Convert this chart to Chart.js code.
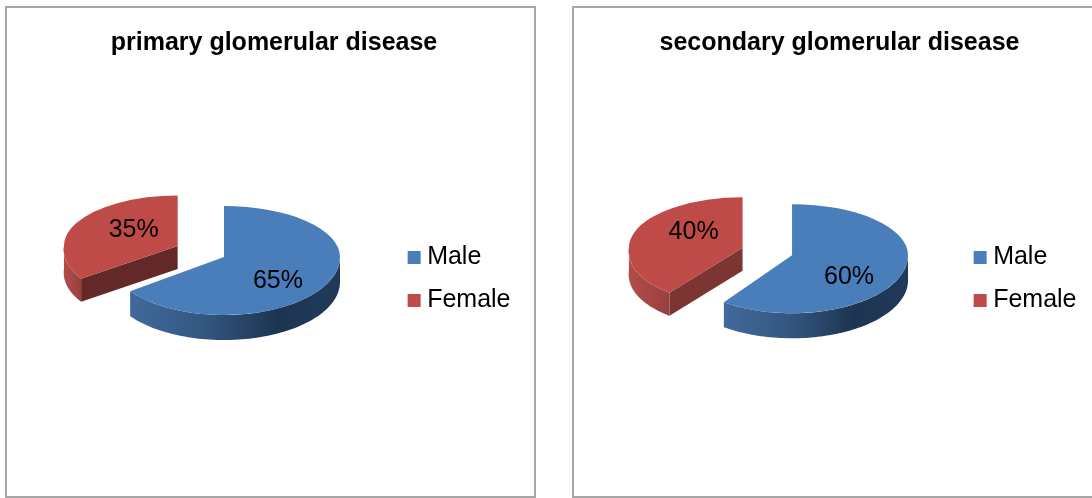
<!DOCTYPE html>
<html>
<head>
<meta charset="utf-8">
<style>
  html, body { margin: 0; padding: 0; background: #fff; width: 1092px; height: 498px; overflow: hidden; position: relative; }
  .frame { position: absolute; box-sizing: border-box; border: 2px solid #a6a6a6; background: #fff; }
  canvas { position: absolute; top: 6px; }
</style>
<script src="https://cdn.jsdelivr.net/npm/chart.js@4/dist/chart.umd.min.js"></script>
</head>
<body>
<div class="frame" style="left:5px;top:6px;width:531px;height:492px"></div>
<div class="frame" style="left:572px;top:6px;width:530px;height:492px"></div>
<canvas id="primary" width="548" height="492" style="left:0"></canvas>
<canvas id="secondary" width="535" height="492" style="left:572px"></canvas>
<script>
// Shares of each sex per disease group
const categories = ['Male', 'Female'];
const primaryValues = [65, 35];
const secondaryValues = [60, 40];
const primaryTitle = 'primary glomerular disease';
const secondaryTitle = 'secondary glomerular disease';

const BLUE = '#4a7ebb';
const RED = '#be4b48';
const FONT = '"Liberation Sans", Arial, sans-serif';
const TILT_MID = 0.47;     // squash used when pulling a slice out along its mid-angle
const EXPLODE = 26;        // how far each slice is pulled from the centre

// Per-slice look of the tilted disc, in the order of the categories
const sliceStyle = [
  { scaleX: 1, shear: 0, depth: 25, tiltUp: 0.44, tiltDown: 0.50,
    wallStops: [[0, '#41699b'], [0.35, '#335780'], [0.7, '#1e3552'], [1, '#213a5a']] },
  { scaleX: 0.98, shear: -0.14, depth: 23, tiltUp: 0.435, tiltDown: 0.48,
    wallStops: [[0, '#b44d4a'], [1, '#97403e']] }
];

function projector(arc, style, lift) {
  const mid = (arc.startAngle + arc.endAngle) / 2;
  const ax = arc.x + Math.cos(mid) * EXPLODE;
  const ay = arc.y + lift + Math.sin(mid) * EXPLODE * TILT_MID;
  return {
    ax, ay,
    at(angle) {
      const s = Math.sin(angle) * arc.outerRadius;
      const c = Math.cos(angle) * arc.outerRadius * style.scaleX;
      if (s > 0) return { x: ax + c + style.shear * style.tiltDown * s, y: ay + style.tiltDown * s };
      return { x: ax + c, y: ay + style.tiltUp * s };
    }
  };
}

// Outer rim and cut face below the top surface of a slice
function drawWalls(ctx, arc, style, proj) {
  const from = Math.max(arc.startAngle, 0);
  const to = Math.min(arc.endAngle, Math.PI);
  if (style.faceColor) {
    const end = proj.at(arc.startAngle);
    ctx.fillStyle = style.faceColor;
    ctx.beginPath();
    ctx.moveTo(proj.ax, proj.ay);
    ctx.lineTo(end.x, end.y);
    ctx.lineTo(end.x, end.y + style.depth);
    ctx.lineTo(proj.ax, proj.ay + style.depth);
    ctx.closePath();
    ctx.fill();
  }
  if (to <= from) return;
  const steps = 80;
  const rim = [];
  for (let i = 0; i <= steps; i++) rim.push(proj.at(from + (to - from) * i / steps));
  const xs = rim.map(p => p.x);
  const grad = ctx.createLinearGradient(Math.min(...xs), 0, Math.max(...xs), 0);
  style.wallStops.forEach(([t, c]) => grad.addColorStop(t, c));
  ctx.fillStyle = grad;
  ctx.beginPath();
  rim.forEach((p, i) => i ? ctx.lineTo(p.x, p.y) : ctx.moveTo(p.x, p.y));
  rim.slice().reverse().forEach(p => ctx.lineTo(p.x, p.y + style.depth));
  ctx.closePath();
  ctx.fill();
}

// Top surface: the library's arc element, drawn under the tilt transform
function drawTop(ctx, chart, arc, style, proj) {
  const seam = Math.round(proj.ay);
  const halves = [
    { y: -10, h: seam + 10, k: style.tiltUp, shear: 0 },
    { y: seam, h: 1000, k: style.tiltDown, shear: style.shear }
  ];
  halves.forEach(part => {
    ctx.save();
    ctx.beginPath();
    ctx.rect(-10, part.y, chart.width + 20, part.h);
    ctx.clip();
    ctx.translate(proj.ax, proj.ay);
    ctx.transform(style.scaleX, 0, part.shear * part.k, part.k, 0, 0);
    ctx.translate(-arc.x, -arc.y);
    arc.draw(ctx);
    ctx.restore();
  });
}

const tiltedPie = {
  id: 'tiltedPie',
  afterLayout(chart) {
    const shift = chart.options.plugins.tiltedPie.titleShift;
    chart.titleBlock.left += shift;
    chart.titleBlock.right += shift;
  },
  beforeDatasetDraw(chart) {
    const cfg = chart.options.plugins.tiltedPie;
    const ctx = chart.ctx;
    const arcs = chart.getDatasetMeta(0).data;
    const values = chart.data.datasets[0].data;
    const total = values.reduce((a, b) => a + b, 0);
    const styles = sliceStyle.map((s, i) => Object.assign({}, s, { faceColor: cfg.faceColors[i] }));
    const projs = arcs.map((arc, i) => projector(arc, styles[i], cfg.lift));
    arcs.forEach((arc, i) => drawWalls(ctx, arc, styles[i], projs[i]));
    arcs.forEach((arc, i) => drawTop(ctx, chart, arc, styles[i], projs[i]));
    ctx.save();
    ctx.fillStyle = '#000';
    ctx.font = '25px ' + FONT;
    ctx.textAlign = 'center';
    ctx.textBaseline = 'middle';
    arcs.forEach((arc, i) => {
      const [dx, dy] = cfg.labelShift[i];
      ctx.fillText(Math.round(values[i] / total * 100) + '%', projs[i].ax + dx, projs[i].ay + dy);
    });
    ctx.restore();
    return false;
  }
};

function buildPie(id, title, values, extra) {
  return new Chart(document.getElementById(id), {
    type: 'pie',
    data: {
      labels: categories,
      datasets: [{ data: values, backgroundColor: [BLUE, RED], borderWidth: 0, hoverOffset: 0 }]
    },
    plugins: [tiltedPie],
    options: {
      responsive: false,
      animation: false,
      events: [],
      radius: 116,
      layout: { padding: extra.padding },
      plugins: {
        tooltip: { enabled: false },
        tiltedPie: extra.pie,
        title: {
          display: true,
          text: title,
          color: '#000',
          font: { family: FONT, size: 25, weight: 'bold' },
          padding: { top: 22, bottom: 10 }
        },
        legend: {
          position: 'right',
          fullSize: false,
          labels: {
            color: '#000',
            font: { family: FONT, size: 25 },
            boxWidth: 1,
            boxHeight: 1,
            padding: 18,
            // A 1px box with a 12px outline gives the small square key close to its text
            generateLabels(chart) {
              return Chart.overrides.pie.plugins.legend.labels.generateLabels(chart).map(item =>
                Object.assign(item, { lineWidth: 12, strokeStyle: item.fillStyle }));
            }
          }
        }
      }
    }
  });
}

buildPie('primary', primaryTitle, primaryValues, {
  padding: { left: 6, right: 27.5, top: 0, bottom: 8 },
  pie: { lift: -27.5, titleShift: 10.75, faceColors: [null, '#632928'], labelShift: [[54, 24], [-44, -16]] }
});
buildPie('secondary', secondaryTitle, secondaryValues, {
  padding: { left: 1, right: 20.5, top: 0, bottom: 8 },
  pie: { lift: -27.5, titleShift: 9.75, faceColors: [null, '#7d3534'], labelShift: [[57, 22], [-49, -16]] }
});
</script>
</body>
</html>
